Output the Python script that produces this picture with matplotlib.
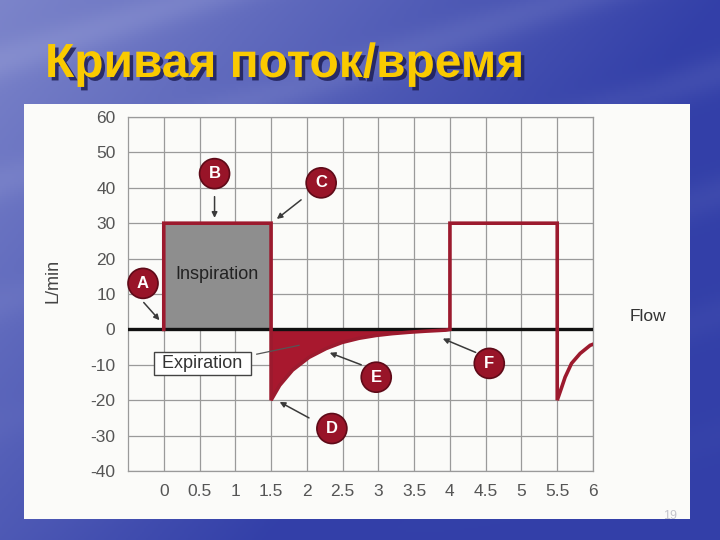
import numpy as np
import matplotlib
matplotlib.use("Agg")
import matplotlib.pyplot as plt
import matplotlib.patheffects as pe
from matplotlib.patches import Rectangle

# --- data ---
title = "Кривая поток/время"
x_ticks = [0, 0.5, 1, 1.5, 2, 2.5, 3, 3.5, 4, 4.5, 5, 5.5, 6]
x_labels = ["0", "0.5", "1", "1.5", "2", "2.5", "3", "3.5", "4", "4.5", "5", "5.5", "6"]
y_ticks = [-40, -30, -20, -10, 0, 10, 20, 30, 40, 50, 60]
y_labels = ["-40", "-30", "-20", "-10", "0", "10", "20", "30", "40", "50", "60"]

# inspiration plateaus (s, L/min)
insp1_t = [0, 1.5]
insp1_flow = [30, 30]
insp2_t = [4.0, 5.5]
insp2_flow = [30, 30]

# expiration curves
exp1_t = [1.5, 1.62, 1.8, 2.03, 2.27, 2.49, 2.73, 2.97, 3.19, 3.43, 3.66, 3.94, 4.0]
exp1_flow = [-20, -15.8, -11.5, -7.9, -5.4, -3.7, -2.5, -1.7, -1.2, -0.8, -0.5, -0.2, 0]
exp2_t = [5.5, 5.56, 5.61, 5.7, 5.82, 5.96, 6.0]
exp2_flow = [-20, -16.5, -13.5, -9.6, -6.8, -4.5, -4.2]

# labelled points: letter, circle position, arrow tail, arrow head
markers = [
    ("A", (-0.29, 13.0), (-0.28, 7.6), (-0.06, 2.6)),
    ("B", (0.71, 44.0), (0.71, 37.5), (0.71, 31.5)),
    ("C", (2.20, 41.4), (1.92, 36.6), (1.58, 31.2)),
    ("D", (2.35, -28.0), (2.03, -25.0), (1.62, -20.5)),
    ("E", (2.97, -13.5), (2.76, -10.0), (2.32, -6.6)),
    ("F", (4.55, -9.6), (4.36, -6.5), (3.90, -2.6)),
]

red = "#9c1a2e"
gray_fill = "#8e8e8e"
tick_col = "#555555"

plt.rcParams["font.family"] = ["Liberation Sans", "DejaVu Sans"]

fig = plt.figure(figsize=(7.2, 5.4), dpi=100)

# sky-like blue background
bg = fig.add_axes([0, 0, 1, 1], zorder=-2)
H, W = 270, 360
yy, xx = np.mgrid[0:H, 0:W] / np.array([H, W])[:, None, None]
light = np.clip(0.55 - 0.55 * xx - 0.35 * yy, 0, 1)
streak = 0.12 * (np.sin(14 * yy + 6 * xx) ** 8) * (1 - yy)
mix = np.clip(light + streak, 0, 1)
base = np.array([0.20, 0.25, 0.66])
cloud = np.array([0.72, 0.74, 0.90])
img = base[None, None, :] * (1 - mix[..., None]) + cloud[None, None, :] * mix[..., None]
bg.imshow(img, aspect="auto", extent=[0, 1, 0, 1])
bg.set_axis_off()

# white page panel
fig.add_artist(Rectangle((24 / 720, 1 - 519 / 540), (690 - 24) / 720, (519 - 104) / 540,
                         transform=fig.transFigure, facecolor="#fbfbf9",
                         edgecolor="none", zorder=-1))

ax = fig.add_axes([128 / 720, 1 - 471 / 540, (593 - 128) / 720, (471 - 117) / 540])
ax.set_facecolor("none")
ax.set_xlim(-0.5, 6)
ax.set_ylim(-40, 60)
ax.set_xticks(x_ticks)
ax.set_xticklabels(x_labels)
ax.set_yticks(y_ticks)
ax.set_yticklabels(y_labels)
ax.tick_params(length=0, pad=9, labelsize=12.5, labelcolor=tick_col)
ax.grid(True, color="#9a9a9a", lw=0.9)
ax.set_axisbelow(True)
for s in ax.spines.values():
    s.set_color("#9a9a9a")
    s.set_linewidth(0.9)

# fills
ax.fill_between(insp1_t, 0, insp1_flow, color=gray_fill, lw=0, zorder=2)
ax.fill_between(exp1_t, 0, exp1_flow, color="#a8182e", lw=0, zorder=2)

# zero line and flow trace
ax.axhline(0, color="#111111", lw=2.4, zorder=3)
trace_t = [0] + insp1_t + exp1_t + insp2_t + exp2_t
trace_flow = [0] + insp1_flow + exp1_flow + insp2_flow + exp2_flow
ax.plot(trace_t, trace_flow, color=red, lw=2.6, zorder=4, solid_joinstyle="miter")

ax.text(0.75, 15.5, "Inspiration", ha="center", va="center", fontsize=13,
        color="#222222", zorder=5)
ax.text(0.54, -9.6, " Expiration ", ha="center", va="center", fontsize=13,
        color="#333333", zorder=5,
        bbox=dict(boxstyle="square,pad=0.18", fc="white", ec="#444444", lw=1.0))
ax.plot([1.30, 1.89], [-7.0, -4.5], color="#555555", lw=0.9, zorder=5)
ax.text(6.77, 3.6, "Flow", ha="center", va="center", fontsize=12.5,
        color="#333333", clip_on=False)

for letter, pos, tail, head in markers:
    ax.annotate("", xy=head, xytext=tail,
                arrowprops=dict(arrowstyle="-|>", color="#3a3a3a", lw=1.1,
                                mutation_scale=8, shrinkA=0, shrinkB=0), zorder=6)
    ax.text(pos[0], pos[1], letter, ha="center", va="center", fontsize=12,
            fontweight="bold", color="white", zorder=7,
            bbox=dict(boxstyle="circle,pad=0.45", fc="#981428", ec="#5e0a18", lw=1.2))

fig.text(53 / 720, 1 - 281 / 540, "L/min", rotation=90, ha="center", va="center",
         fontsize=13, color="#444444")

fig.text(45 / 720, 1 - 77 / 540, title, ha="left", va="baseline", fontsize=34.5,
         fontweight="bold", color="#FACA00",
         path_effects=[pe.withSimplePatchShadow(offset=(2.5, -2.5),
                                                shadow_rgbFace="#1a1a50", alpha=0.8)])

fig.text(670 / 720, 1 - 516 / 540, "19", ha="center", va="center", fontsize=9,
         color="#c4c4cc")

fig.savefig("out.png", dpi=100)
